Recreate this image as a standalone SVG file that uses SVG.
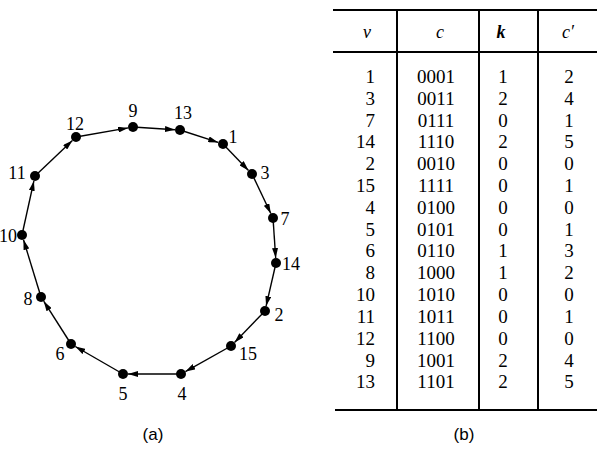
<svg xmlns="http://www.w3.org/2000/svg" width="600" height="455" viewBox="0 0 600 455">
<style>
.node{fill:#000}
.lbl{font-family:"Liberation Serif","Times New Roman",serif;font-size:18px;fill:#000;text-anchor:middle}
.edge{stroke:#000;stroke-width:1.4;fill:none;marker-end:url(#arr)}
.cap{font-family:"Liberation Sans",Arial,sans-serif;font-size:17px;fill:#000;text-anchor:middle}
.tl{stroke:#000;stroke-width:2;fill:none}
.hd{font-family:"Liberation Serif","Times New Roman",serif;font-size:18px;font-style:italic;fill:#000;text-anchor:middle}
.td{font-family:"Liberation Serif","Times New Roman",serif;font-size:19px;fill:#000;text-anchor:middle}
.tv{font-family:"Liberation Serif","Times New Roman",serif;font-size:19px;fill:#000;text-anchor:end}
</style>
<defs>
<marker id="arr" markerUnits="userSpaceOnUse" markerWidth="10" markerHeight="6" refX="10" refY="3" orient="auto">
<path d="M0,0 L10,3 L0,6 Z" fill="#000"/>
</marker>
</defs>
<rect width="600" height="455" fill="#fff"/>
<g id="connectors">
<line class="edge" x1="133" y1="127" x2="175" y2="129.7"/>
<line class="edge" x1="180" y1="130" x2="218.2" y2="142.4"/>
<line class="edge" x1="223" y1="144" x2="248.5" y2="170.4"/>
<line class="edge" x1="252" y1="174" x2="270.8" y2="213.5"/>
<line class="edge" x1="273" y1="218" x2="275.7" y2="258"/>
<line class="edge" x1="276" y1="263" x2="266.1" y2="306.1"/>
<line class="edge" x1="265" y1="311" x2="234.5" y2="342.4"/>
<line class="edge" x1="231" y1="346" x2="185.4" y2="371.6"/>
<line class="edge" x1="181" y1="374" x2="128" y2="374"/>
<line class="edge" x1="123" y1="374" x2="75.3" y2="346.5"/>
<line class="edge" x1="71" y1="344" x2="43.7" y2="301.2"/>
<line class="edge" x1="41" y1="297" x2="23.5" y2="239.8"/>
<line class="edge" x1="22" y1="235" x2="33.9" y2="180.9"/>
<line class="edge" x1="35" y1="176" x2="72.4" y2="140.4"/>
<line class="edge" x1="76" y1="137" x2="128.1" y2="127.9"/>
</g>
<g id="n9"><circle class="node" cx="133" cy="127" r="5"/><text class="lbl" x="133" y="117">9</text></g>
<g id="n13"><circle class="node" cx="180" cy="130" r="5"/><text class="lbl" x="183" y="119">13</text></g>
<g id="n1"><circle class="node" cx="223" cy="144" r="5"/><text class="lbl" x="233" y="143">1</text></g>
<g id="n3"><circle class="node" cx="252" cy="174" r="5"/><text class="lbl" x="265" y="179">3</text></g>
<g id="n7"><circle class="node" cx="273" cy="218" r="5"/><text class="lbl" x="285" y="225">7</text></g>
<g id="n14"><circle class="node" cx="276" cy="263" r="5"/><text class="lbl" x="291" y="270">14</text></g>
<g id="n2"><circle class="node" cx="265" cy="311" r="5"/><text class="lbl" x="279" y="321">2</text></g>
<g id="n15"><circle class="node" cx="231" cy="346" r="5"/><text class="lbl" x="248" y="360">15</text></g>
<g id="n4"><circle class="node" cx="181" cy="374" r="5"/><text class="lbl" x="182" y="400">4</text></g>
<g id="n5"><circle class="node" cx="123" cy="374" r="5"/><text class="lbl" x="123" y="400">5</text></g>
<g id="n6"><circle class="node" cx="71" cy="344" r="5"/><text class="lbl" x="60" y="360">6</text></g>
<g id="n8"><circle class="node" cx="41" cy="297" r="5"/><text class="lbl" x="28" y="305">8</text></g>
<g id="n10"><circle class="node" cx="22" cy="235" r="5"/><text class="lbl" x="8" y="242">10</text></g>
<g id="n11"><circle class="node" cx="35" cy="176" r="5"/><text class="lbl" x="17" y="179">11</text></g>
<g id="n12"><circle class="node" cx="76" cy="137" r="5"/><text class="lbl" x="75" y="130">12</text></g>
<text class="cap" x="153" y="440">(a)</text>
<g id="table">
<line class="tl" x1="333" y1="10" x2="597" y2="10"/>
<line class="tl" x1="333" y1="52" x2="597" y2="52"/>
<line class="tl" x1="335" y1="410" x2="597" y2="410"/>
<line class="tl" x1="397" y1="10" x2="397" y2="410"/>
<line class="tl" x1="479" y1="10" x2="479" y2="410"/>
<line class="tl" x1="538" y1="10" x2="538" y2="410"/>
<text class="hd" x="367" y="38">v</text>
<text class="hd" x="440" y="38">c</text>
<text class="hd" x="501" y="38" font-weight="bold">k</text>
<text class="hd" x="568" y="38">c′</text>
<g class="tv">
<text x="375" y="83">1</text><text x="375" y="105">3</text><text x="375" y="127">7</text><text x="375" y="148">14</text><text x="375" y="170">2</text><text x="375" y="192">15</text><text x="375" y="214">4</text><text x="375" y="236">5</text><text x="375" y="257">6</text><text x="375" y="279">8</text><text x="375" y="301">10</text><text x="375" y="323">11</text><text x="375" y="345">12</text><text x="375" y="367">9</text><text x="375" y="388">13</text>
</g>
<g class="td">
<text x="436" y="83">0001</text><text x="436" y="105">0011</text><text x="436" y="127">0111</text><text x="436" y="148">1110</text><text x="436" y="170">0010</text><text x="436" y="192">1111</text><text x="436" y="214">0100</text><text x="436" y="236">0101</text><text x="436" y="257">0110</text><text x="436" y="279">1000</text><text x="436" y="301">1010</text><text x="436" y="323">1011</text><text x="436" y="345">1100</text><text x="436" y="367">1001</text><text x="436" y="388">1101</text>
<text x="503" y="83">1</text><text x="503" y="105">2</text><text x="503" y="127">0</text><text x="503" y="148">2</text><text x="503" y="170">0</text><text x="503" y="192">0</text><text x="503" y="214">0</text><text x="503" y="236">0</text><text x="503" y="257">1</text><text x="503" y="279">1</text><text x="503" y="301">0</text><text x="503" y="323">0</text><text x="503" y="345">0</text><text x="503" y="367">2</text><text x="503" y="388">2</text>
<text x="569" y="83">2</text><text x="569" y="105">4</text><text x="569" y="127">1</text><text x="569" y="148">5</text><text x="569" y="170">0</text><text x="569" y="192">1</text><text x="569" y="214">0</text><text x="569" y="236">1</text><text x="569" y="257">3</text><text x="569" y="279">2</text><text x="569" y="301">0</text><text x="569" y="323">1</text><text x="569" y="345">0</text><text x="569" y="367">4</text><text x="569" y="388">5</text>
</g>
</g>
<text class="cap" x="464" y="440">(b)</text>
</svg>
